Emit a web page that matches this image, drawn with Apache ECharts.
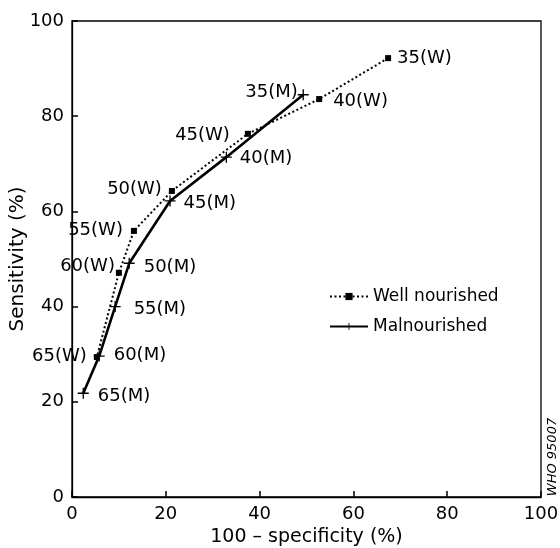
<!DOCTYPE html>
<html>
<head>
<meta charset="utf-8">
<script src="https://cdn.jsdelivr.net/npm/echarts@6/dist/echarts.min.js"></script>
<style>html,body{margin:0;padding:0;background:#fff}#c{width:560px;height:548px}</style>
</head>
<body>
<div id="c"></div>
<script>
// Cut-off values (labels) and ROC points
const cutoffs = [35, 40, 45, 50, 55, 60, 65];
const wellX = [67.4, 52.7, 37.5, 21.3, 13.2, 10.0, 5.3];
const wellY = [92.2, 83.6, 76.3, 64.3, 55.9, 47.1, 29.4];
const malX = [49.3, 32.9, 20.9, 12.2, 9.2, 5.8, 2.4];
const malY = [84.5, 71.4, 62.2, 49.1, 40.0, 29.6, 21.8];
const axisTicks = [0, 20, 40, 60, 80, 100];
const seriesNames = ['Well nourished', 'Malnourished'];

// label placement (style only): [side, distance, dy]
const wellPlace = [['right',6,0],['right',11,2],['left',15,2],['left',7,-2],['left',8,-1],['left',1,-6],['left',7,-1]];
const malPlace = [['left',0,-2],['right',8,1],['right',8,2],['right',9,4],['right',13,3],['right',9,-1],['right',9,3]];

const FONT = 'DejaVu Sans';
const plusPath = 'path://M4.4,0H5.6V4.4H10V5.6H5.6V10H4.4V5.6H0V4.4H4.4Z';

function build(xs, ys, tag, place) {
  return xs.map((x, i) => ({
    value: [x, ys[i]],
    label: {
      show: true,
      formatter: cutoffs[i] + '(' + tag + ')',
      position: place[i][0],
      distance: place[i][1],
      offset: [0, place[i][2]]
    }
  }));
}

const tickStyle = {show: true, inside: true, length: 6, lineStyle: {color: '#000', width: 1.5, opacity: 1}};

const chart = echarts.init(document.getElementById('c'), null, {renderer: 'canvas'});
chart.setOption({
  backgroundColor: '#fff',
  animation: false,
  textStyle: {fontFamily: FONT, color: '#000'},
  grid: {left: 72, right: 19, top: 21, bottom: 51, outerBoundsMode: 'none', containLabel: false,
    show: true, borderColor: '#000', borderWidth: 1.3, backgroundColor: 'transparent', z: 0},
  xAxis: {
    type: 'value', min: 0, max: 100, interval: 20, z: 10,
    name: '100 \u2013 specificity (%)', nameLocation: 'middle', nameGap: 31, nameMoveOverlap: false,
    nameTextStyle: {fontFamily: FONT, fontSize: 19, color: '#000'},
    axisLine: {show: true, onZero: false, lineStyle: {color: '#000', width: 1.3}},
    axisTick: tickStyle,
    axisLabel: {fontFamily: FONT, fontSize: 18, color: '#000', margin: 8,
      formatter: v => axisTicks.includes(v) ? String(v) : ''},
    splitLine: {show: false}
  },
  yAxis: {
    type: 'value', min: 0, max: 100, interval: 20, z: 10,
    name: 'Sensitivity (%)', nameLocation: 'middle', nameGap: 44, nameRotate: 90, nameMoveOverlap: false,
    nameTextStyle: {fontFamily: FONT, fontSize: 20, color: '#000'},
    axisLine: {show: true, onZero: false, lineStyle: {color: '#000', width: 1.3}},
    axisTick: tickStyle,
    axisLabel: {fontFamily: FONT, fontSize: 18, color: '#000', margin: 8,
      formatter: v => axisTicks.includes(v) ? String(v) : ''},
    splitLine: {show: false}
  },
  legend: {
    orient: 'vertical', left: 324, top: 283, itemWidth: 38, itemHeight: 9, itemGap: 13,
    textStyle: {fontFamily: FONT, fontSize: 17, color: '#000'},
    data: seriesNames
  },
  series: [
    {
      name: seriesNames[0], type: 'line', symbol: 'rect', symbolSize: 6,
      itemStyle: {color: '#000'},
      lineStyle: {color: '#000', width: 2, type: [2, 2.5]},
      label: {fontFamily: FONT, fontSize: 18, color: '#000'},
      data: build(wellX, wellY, 'W', wellPlace), z: 2
    },
    {
      name: seriesNames[1], type: 'line', symbol: plusPath, symbolSize: 11,
      itemStyle: {color: '#000'},
      lineStyle: {color: '#000', width: 2.6},
      label: {fontFamily: FONT, fontSize: 18, color: '#000'},
      data: build(malX, malY, 'M', malPlace), z: 3
    }
  ],
  graphic: [{
    type: 'text', x: 553, y: 457, rotation: Math.PI / 2,
    style: {text: 'WHO 95007', font: 'italic 13px "DejaVu Sans"', fill: '#000', align: 'center', verticalAlign: 'middle'}
  }]
});
</script>
</body>
</html>
